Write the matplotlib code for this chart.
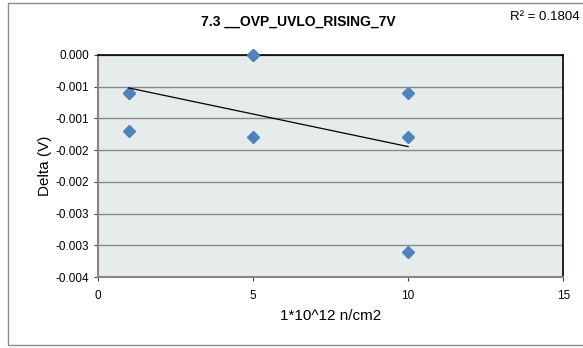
import numpy as np
import matplotlib
matplotlib.use("Agg")
import matplotlib.pyplot as plt
from matplotlib.patches import Rectangle

plt.rcParams['font.family'] = ['Liberation Sans', 'DejaVu Sans']

# fluence (1*10^12 n/cm2) and measured delta (V); some points overlap
fluence = [1, 1, 1, 5, 5, 5, 10, 10, 10]
delta = [-0.0006, -0.0006, -0.0012, 0.0, 0.0, -0.0013, -0.0006, -0.0013, -0.0031]

x_ticks = [0, 5, 10, 15]
y_ticks = [0.0, -0.0005, -0.001, -0.0015, -0.002, -0.0025, -0.003, -0.0035]
y_tick_labels = ['0.000', '-0.001', '-0.001', '-0.002', '-0.002', '-0.003', '-0.003', '-0.004']

title = '7.3 __OVP_UVLO_RISING_7V'
r2_label = 'R² = 0.1804'

fig = plt.figure(figsize=(5.83, 3.48), dpi=100)
ax = fig.add_axes([0.1676, 0.2032, 0.7986, 0.6396])

# outer chart border
fig.patches.append(Rectangle((8 / 583, 1 - 345 / 348), 1.0, 342 / 348,
                             transform=fig.transFigure, fill=False,
                             edgecolor='#8c8c8c', linewidth=1.0, clip_on=False))

ax.set_facecolor('#e6ebeb')
ax.set_xlim(0, 15)
ax.set_ylim(-0.0035, 0)
ax.set_xticks(x_ticks)
ax.set_xticklabels([str(t) for t in x_ticks])
ax.set_yticks(y_ticks)
ax.set_yticklabels(y_tick_labels)
ax.tick_params(axis='both', labelsize=8.5, colors='#404040', length=3, width=0.8,
               direction='out', labelcolor='black')
ax.tick_params(axis='x', pad=6)
ax.tick_params(axis='y', pad=3)
ax.yaxis.grid(True, color='#8a8a8a', linewidth=1.0)
ax.set_axisbelow(True)

for side in ['top', 'right']:
    ax.spines[side].set_color('black')
    ax.spines[side].set_linewidth(1.2)
ax.spines['left'].set_color('#868686')
ax.spines['left'].set_linewidth(1.5)
ax.spines['bottom'].set_color('#868686')
ax.spines['bottom'].set_linewidth(1.5)

ax.plot(fluence, delta, linestyle='none', marker='D', markersize=6.5,
        color='#4f81bd', markeredgecolor='#4f81bd', zorder=3, clip_on=False)

# linear trendline
coef = np.polyfit(fluence, delta, 1)
xs = np.array([min(fluence), max(fluence)])
ax.plot(xs, np.polyval(coef, xs), color='black', linewidth=0.9, zorder=4)

ax.set_xlabel('1*10^12 n/cm2', fontsize=11, labelpad=5)
ax.set_ylabel('Delta (V)', fontsize=11, labelpad=3)

fig.text(298 / 583, 1 - 22 / 348, title, ha='center', va='center',
         fontsize=10, fontweight='bold')
fig.text(580 / 583, 1 - 17 / 348, r2_label, ha='right', va='center', fontsize=9.5)

fig.savefig('out.png', dpi=100)
